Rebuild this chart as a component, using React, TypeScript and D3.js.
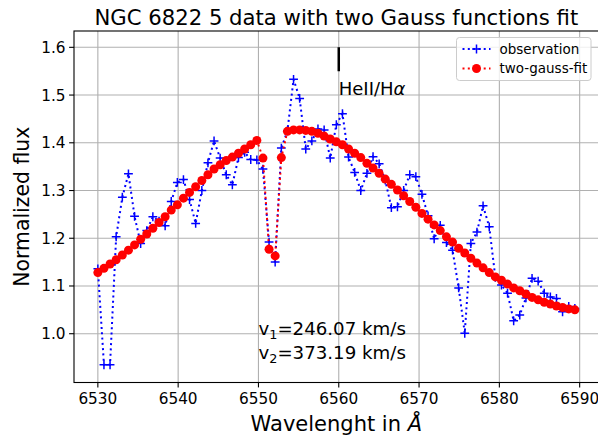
import React from "react";
import * as d3 from "d3";

const W = 598;
const H = 440;

const wavelength = [
  6530.0, 6530.76, 6531.52, 6532.28, 6533.05, 6533.81, 6534.57, 6535.33, 6536.09, 6536.85,
  6537.62, 6538.38, 6539.14, 6539.9, 6540.66, 6541.42, 6542.18, 6542.95, 6543.71, 6544.47,
  6545.23, 6545.99, 6546.75, 6547.51, 6548.28, 6549.04, 6549.8, 6550.56, 6551.32, 6552.08,
  6552.85, 6553.61, 6554.37, 6555.13, 6555.89, 6556.65, 6557.41, 6558.18, 6558.94, 6559.7,
  6560.46, 6561.22, 6561.98, 6562.74, 6563.51, 6564.27, 6565.03, 6565.79, 6566.55, 6567.31,
  6568.08, 6568.84, 6569.6, 6570.36, 6571.12, 6571.88, 6572.64, 6573.41, 6574.17, 6574.93,
  6575.69, 6576.45, 6577.21, 6577.97, 6578.74, 6579.5, 6580.26, 6581.02, 6581.78, 6582.54,
  6583.31, 6584.07, 6584.83, 6585.59, 6586.35, 6587.11, 6587.87, 6588.64, 6589.4,
];

const observation = [
  1.136, 0.935, 0.935, 1.203, 1.286, 1.335, 1.246, 1.189, 1.216, 1.245,
  1.236, 1.226, 1.277, 1.317, 1.323, 1.281, 1.231, 1.3, 1.358, 1.404,
  1.368, 1.333, 1.312, 1.369, 1.38, 1.365, 1.364, 1.345, 1.192, 1.15,
  1.389, 1.425, 1.533, 1.493, 1.387, 1.404, 1.429, 1.427, 1.368, 1.438,
  1.461, 1.37, 1.338, 1.3, 1.336, 1.371, 1.356, 1.322, 1.264, 1.266,
  1.3, 1.333, 1.329, 1.292, 1.247, 1.199, 1.227, 1.191, 1.175, 1.096,
  1.001, 1.189, 1.213, 1.268, 1.224, 1.118, 1.102, 1.085, 1.027, 1.039,
  1.075, 1.116, 1.11, 1.085, 1.077, 1.074, 1.046, 1.057, 1.053,
];

const twoGaussFit = [
  1.128, 1.137, 1.146, 1.155, 1.165, 1.175, 1.186, 1.198, 1.209, 1.221,
  1.233, 1.245, 1.259, 1.27, 1.284, 1.296, 1.308, 1.321, 1.333, 1.345,
  1.354, 1.363, 1.37, 1.378, 1.387, 1.396, 1.405, 1.368, 1.177, 1.163,
  1.369, 1.424, 1.427, 1.427, 1.426, 1.424, 1.42, 1.414, 1.408, 1.402,
  1.396, 1.387, 1.378, 1.369, 1.357, 1.347, 1.336, 1.324, 1.313, 1.301,
  1.289, 1.277, 1.265, 1.252, 1.24, 1.228, 1.216, 1.203, 1.192, 1.179,
  1.169, 1.158, 1.148, 1.138, 1.128, 1.119, 1.112, 1.104, 1.096, 1.09,
  1.083, 1.076, 1.071, 1.066, 1.062, 1.058, 1.055, 1.052, 1.05,
];

const xTicks = [6530, 6540, 6550, 6560, 6570, 6580, 6590];
const yTicks = [1.0, 1.1, 1.2, 1.3, 1.4, 1.5, 1.6];

const markerX = [6560, 6560];
const markerY = [1.55, 1.6];

const FONT = "DejaVu Sans, sans-serif";

export default function App() {
  const left = 74;
  const right = 598.7;
  const top = 31;
  const bottom = 382.5;

  const x = d3.scaleLinear().domain([6527.03, 6592.37]).range([left, right]);
  const y = d3.scaleLinear().domain([0.8978, 1.6342]).range([bottom, top]);

  const obsPts = wavelength.map((w, i) => [w, observation[i]] as [number, number]);
  const fitPts = wavelength.map((w, i) => [w, twoGaussFit[i]] as [number, number]);

  const line = d3
    .line<[number, number]>()
    .x((d) => x(d[0]))
    .y((d) => y(d[1]));

  const plus = (cx: number, cy: number, s = 4.4) =>
    `M${cx - s},${cy}H${cx + s}M${cx},${cy - s}V${cy + s}`;

  const blue = "#0000ff";
  const red = "#ff0000";
  const R = 4.5;

  // legend
  const lgX = 456.5;
  const lgY = 37.5;
  const lgW = 134.5;
  const lgH = 43;

  return (
    <svg
      width={W}
      height={H}
      style={{ position: "absolute", left: 0, top: 0, background: "#fff" }}
      fontFamily={FONT}
    >
      <rect x={0} y={0} width={W} height={H} fill="#fff" />
      <defs>
        <clipPath id="plotclip">
          <rect x={left} y={top} width={right - left} height={bottom - top} />
        </clipPath>
      </defs>

      {/* grid */}
      {xTicks.map((t) => (
        <line key={"gx" + t} x1={x(t)} x2={x(t)} y1={top} y2={bottom} stroke="#b0b0b0" strokeWidth={1.1} />
      ))}
      {yTicks.map((t) => (
        <line key={"gy" + t} x1={left} x2={right} y1={y(t)} y2={y(t)} stroke="#b0b0b0" strokeWidth={1.1} />
      ))}

      <g clipPath="url(#plotclip)">
        {/* observation */}
        <path d={line(obsPts) || ""} fill="none" stroke={blue} strokeWidth={2} strokeDasharray="2,3.3" />
        {obsPts.map((p, i) => (
          <path key={"o" + i} d={plus(x(p[0]), y(p[1]))} stroke={blue} strokeWidth={1.5} fill="none" />
        ))}
        {/* fit */}
        <path d={line(fitPts) || ""} fill="none" stroke={red} strokeWidth={2} strokeDasharray="2,3.3" />
        {fitPts.map((p, i) => (
          <circle key={"f" + i} cx={x(p[0])} cy={y(p[1])} r={R} fill={red} />
        ))}
        {/* HeII marker */}
        <path
          d={line(markerX.map((w, i) => [w, markerY[i]] as [number, number])) || ""}
          stroke="#000"
          strokeWidth={2.5}
          fill="none"
        />
      </g>

      {/* axes frame */}
      <rect x={left} y={top} width={right - left} height={bottom - top} fill="none" stroke="#000" strokeWidth={1.1} />

      {/* x ticks */}
      {xTicks.map((t) => (
        <g key={"xt" + t}>
          <line x1={x(t)} x2={x(t)} y1={bottom} y2={bottom + 4.9} stroke="#000" strokeWidth={1.1} />
          <text x={x(t)} y={bottom + 21} textAnchor="middle" fontSize={15.3} fill="#000">
            {t}
          </text>
        </g>
      ))}
      {/* y ticks */}
      {yTicks.map((t) => (
        <g key={"yt" + t}>
          <line x1={left - 4.9} x2={left} y1={y(t)} y2={y(t)} stroke="#000" strokeWidth={1.1} />
          <text x={left - 8.5} y={y(t) + 5.5} textAnchor="end" fontSize={15.3} fill="#000">
            {t.toFixed(1)}
          </text>
        </g>
      ))}

      {/* title */}
      <text x={(left + right) / 2} y={25} textAnchor="middle" fontSize={21.2} fill="#000">
        NGC 6822 5 data with two Gauss functions fit
      </text>

      {/* axis labels */}
      <text x={(left + right) / 2} y={431} textAnchor="middle" fontSize={21} fill="#000">
        Wavelenght in <tspan fontStyle="italic">Å</tspan>
      </text>
      <text
        transform={`translate(29,${(top + bottom) / 2}) rotate(-90)`}
        textAnchor="middle"
        fontSize={20.4}
        fill="#000"
      >
        Normalized flux
      </text>

      {/* annotations */}
      <text x={x(6560)} y={95} fontSize={18} fill="#000">
        HeII/H<tspan fontStyle="italic">α</tspan>
      </text>
      <text x={x(6550)} y={335} fontSize={18.2} fill="#000">
        v<tspan fontSize={12.8} dy={4}>1</tspan>
        <tspan dy={-4}>=246.07 km/s</tspan>
      </text>
      <text x={x(6550)} y={358.5} fontSize={18.2} fill="#000">
        v<tspan fontSize={12.8} dy={4}>2</tspan>
        <tspan dy={-4}>=373.19 km/s</tspan>
      </text>

      {/* legend */}
      <rect x={lgX} y={lgY} width={lgW} height={lgH} rx={3} fill="#fff" fillOpacity={0.8} stroke="#cccccc" strokeWidth={1} />
      <line x1={lgX + 6} x2={lgX + 34} y1={lgY + 11.5} y2={lgY + 11.5} stroke={blue} strokeWidth={2} strokeDasharray="2,3.3" />
      <path d={plus(lgX + 20, lgY + 11.5)} stroke={blue} strokeWidth={1.5} />
      <text x={lgX + 43} y={lgY + 16} fontSize={13.5} fill="#000">
        observation
      </text>
      <line x1={lgX + 6} x2={lgX + 34} y1={lgY + 31} y2={lgY + 31} stroke={red} strokeWidth={2} strokeDasharray="2,3.3" />
      <circle cx={lgX + 20} cy={lgY + 31} r={R} fill={red} />
      <text x={lgX + 43} y={lgY + 35.5} fontSize={13.5} fill="#000">
        two-gauss-fit
      </text>
    </svg>
  );
}
